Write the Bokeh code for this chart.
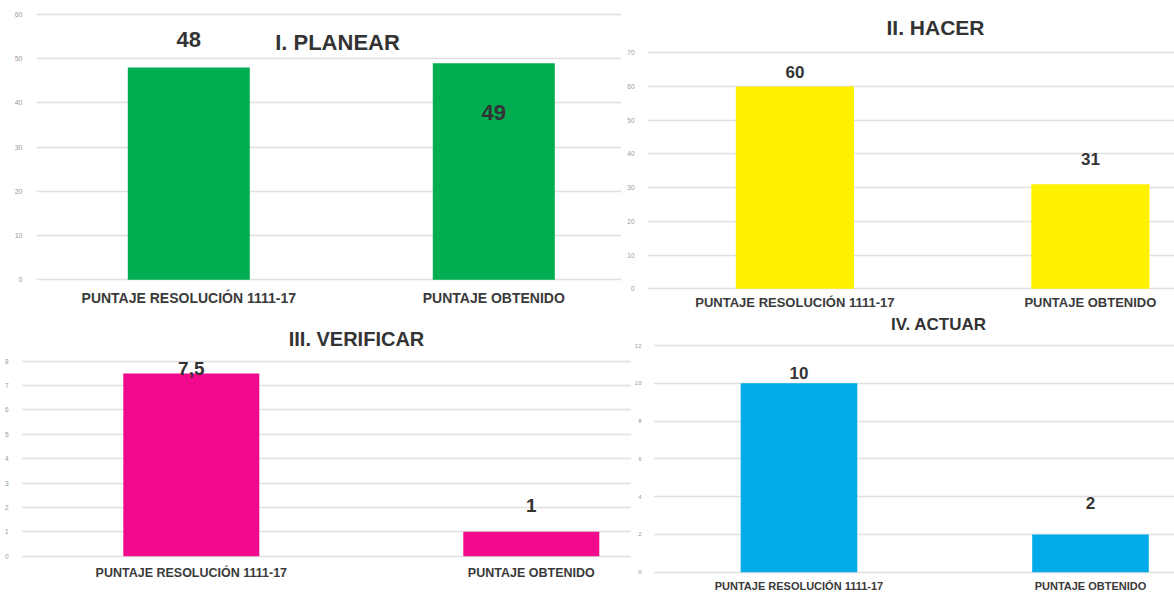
from bokeh.plotting import figure
from bokeh.layouts import column, row
from bokeh.models import Range1d, FixedTicker, Label, LabelSet, ColumnDataSource
from bokeh.core.properties import value
from bokeh.embed import file_html
from bokeh.resources import INLINE

# ---------------- data ----------------
categories = ["PUNTAJE RESOLUCIÓN 1111-17", "PUNTAJE OBTENIDO"]

titles = ["I. PLANEAR", "II. HACER", "III. VERIFICAR", "IV. ACTUAR"]

planear_values = [48, 49]
hacer_values = [60, 31]
verificar_values = [7.5, 1]
actuar_values = [10, 2]

planear_labels = ["48", "49"]
hacer_labels = ["60", "31"]
verificar_labels = ["7,5", "1"]
actuar_labels = ["10", "2"]

planear_ticks = [0, 10, 20, 30, 40, 50, 60]
hacer_ticks = [0, 10, 20, 30, 40, 50, 60, 70]
verificar_ticks = [0, 1, 2, 3, 4, 5, 6, 7, 8]
actuar_ticks = [0, 2, 4, 6, 8, 10, 12]

# ---------------- styling / geometry (panel pixels) ----------------
FONT = "Liberation Sans"
TEXT_DARK = "#333333"
CAT_COLOR = "#3a3a3a"
GRID = "#e0e0e0"
TICK_GREY = "#999999"

geom_planear = dict(width=621, height=310, bar_px=(188.3, 493.3),
                    grid_px=(14.0, 279.3), title_px=(337, 42), title_size="22px",
                    label_off_px=[28, -49], label_size="22px",
                    cat_px=297.7, cat_size="14px",
                    tick_size="7px", tick_standoff=8)
geom_hacer = dict(width=553, height=310, bar_px=(173.4, 468.9),
                  grid_px=(52.3, 288.3), title_px=(314, 27), title_size="21px",
                  label_off_px=[15, 25], label_size="17px",
                  cat_px=301.5, cat_size="13px",
                  tick_size="6.5px", tick_standoff=7)
geom_verificar = dict(width=631, height=282, bar_px=(190.8, 530.8),
                      grid_px=(50.7, 245.7), title_px=(356, 28), title_size="20px",
                      label_off_px=[5, 26], label_size="19px",
                      cat_px=262.3, cat_size="12.5px",
                      tick_size="6.5px", tick_standoff=7)
geom_actuar = dict(width=543, height=282, bar_px=(165.3, 458.5),
                   grid_px=(35.0, 261.7), title_px=(306, 14), title_size="17px",
                   label_off_px=[10, 31], label_size="17px",
                   cat_px=275.7, cat_size="11px",
                   tick_size="6px", tick_standoff=6)


def make_panel(title, cats, vals, labels, yticks, color, g):
    W, H = g["width"], g["height"]
    c1, c2 = g["bar_px"]
    b = c2 - c1                      # px per category step
    left = int(round(c1 - 0.5 * b))  # frame left edge
    x_start = 1 - (c1 - left) / b
    x_end = 2 + (W - c2) / b
    ytop_px, y0_px = g["grid_px"]
    top_tick = yticks[-1]
    a = (y0_px - ytop_px) / top_tick  # px per data unit
    y_end = top_tick + ytop_px / a
    y_start = -(H - y0_px) / a

    def xd(px):
        return 1 + (px - c1) / b

    def yd(py):
        return (y0_px - py) / a

    p = figure(width=W, height=H, output_backend="svg",
               toolbar_location=None, tools="", x_axis_location=None,
               x_range=Range1d(x_start, x_end),
               y_range=Range1d(y_start, y_end),
               min_border_left=left, min_border_right=0,
               min_border_top=0, min_border_bottom=0)
    p.outline_line_color = None
    p.background_fill_color = "white"
    p.border_fill_color = "white"

    xs = [i + 1 for i in range(len(cats))]
    src = ColumnDataSource(dict(
        x=xs, top=vals, text=labels, cat=cats,
        ly=[v + o / a for v, o in zip(vals, g["label_off_px"])],
        cy=[yd(g["cat_px"])] * len(cats)))
    p.vbar(x="x", top="top", bottom=0, width=0.4, source=src,
           fill_color=color, line_color=None)

    # value labels
    p.add_layout(LabelSet(x="x", y="ly", text="text", source=src,
                          text_align="center", text_baseline="middle",
                          text_font=value(FONT), text_font_style="bold",
                          text_font_size=value(g["label_size"]),
                          text_color=TEXT_DARK))
    # category labels
    p.add_layout(LabelSet(x="x", y="cy", text="cat", source=src,
                          text_align="center", text_baseline="middle",
                          text_font=value(FONT), text_font_style="bold",
                          text_font_size=value(g["cat_size"]),
                          text_color=CAT_COLOR))
    # chart title
    tx, ty = g["title_px"]
    p.add_layout(Label(x=xd(tx), y=yd(ty), text=title,
                       text_align="center", text_baseline="middle",
                       text_font=FONT, text_font_style="bold",
                       text_font_size=g["title_size"], text_color=TEXT_DARK))

    # y axis
    ya = p.yaxis[0]
    ya.ticker = FixedTicker(ticks=yticks)
    ya.axis_line_color = None
    ya.major_tick_line_color = None
    ya.minor_tick_line_color = None
    ya.major_label_text_font = FONT
    ya.major_label_text_font_size = g["tick_size"]
    ya.major_label_text_color = TICK_GREY
    ya.major_label_standoff = g["tick_standoff"]

    p.xgrid.grid_line_color = None
    p.ygrid.grid_line_color = GRID
    p.ygrid.grid_line_width = 1.3
    return p


p1 = make_panel(titles[0], categories, planear_values, planear_labels,
                planear_ticks, "#00AD50", geom_planear)
p2 = make_panel(titles[1], categories, hacer_values, hacer_labels,
                hacer_ticks, "#FFF200", geom_hacer)
p3 = make_panel(titles[2], categories, verificar_values, verificar_labels,
                verificar_ticks, "#F0098A", geom_verificar)
p4 = make_panel(titles[3], categories, actuar_values, actuar_labels,
                actuar_ticks, "#00ABE8", geom_actuar)

layout = column(row(p1, p2, spacing=0), row(p3, p4, spacing=0), spacing=0)

open("out.html", "w").write(file_html(layout, INLINE))
